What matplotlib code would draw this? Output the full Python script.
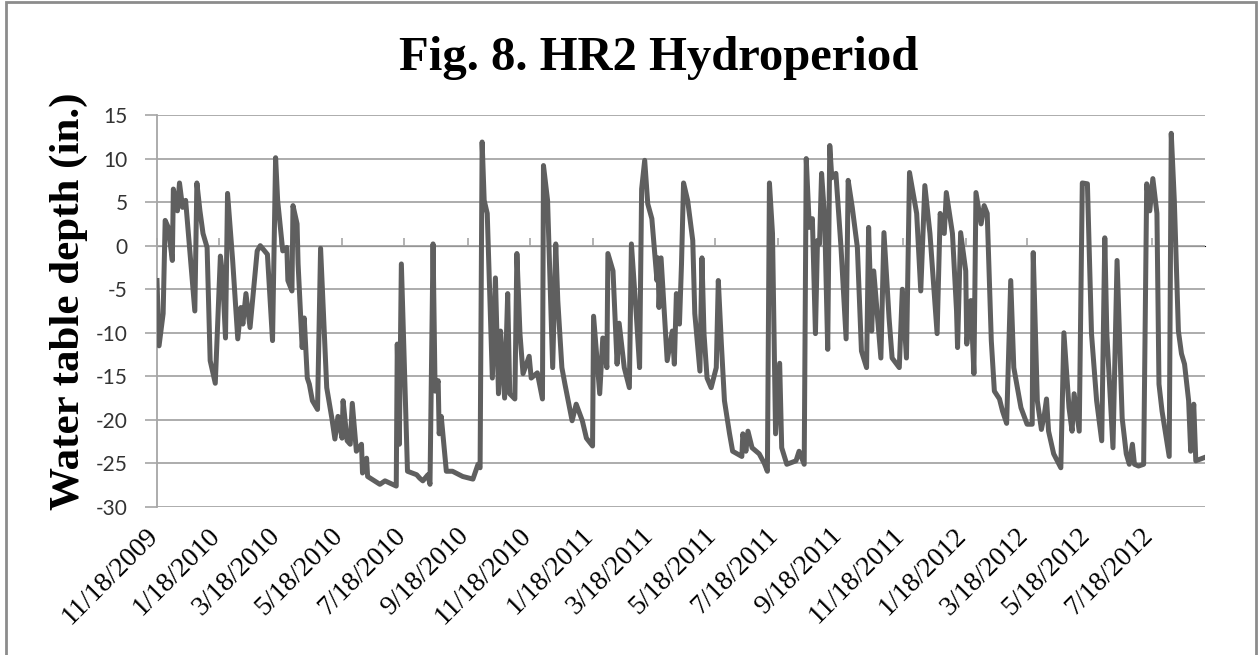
import matplotlib
matplotlib.use("Agg")
import matplotlib.pyplot as plt
import matplotlib.transforms as mtransforms
import numpy as np
import pandas as pd
from matplotlib.patches import Rectangle

# Data: days since 11/18/2009 and water table depth (in.)
start_date = "2009-11-18"
days = [0, 2, 6, 8, 11, 15, 16, 20, 22, 25, 28, 37, 39, 42, 45, 49, 52, 57, 62, 64,
        67, 69, 74, 79, 82, 84, 87, 91, 98, 101, 108, 113, 116, 118, 123, 127, 128, 132,
        133, 137, 138, 142, 144, 147, 149, 152, 157, 160, 166, 171, 174, 177, 181, 182,
        186, 189, 191, 195, 200, 201, 205, 206, 218, 223, 234, 235, 237, 239, 245, 254,
        257, 260, 265, 267, 270, 272, 275, 276, 278, 283, 289, 299, 309, 314, 316, 318,
        320, 323, 328, 331, 334, 336, 340, 343, 345, 350, 352, 355, 358, 364, 366, 372,
        377, 378, 382, 387, 390, 392, 396, 399, 406, 410, 416, 420, 426, 427, 433, 436,
        440, 441, 446, 450, 452, 457, 462, 464, 469, 472, 474, 477, 480, 484, 489, 490,
        491, 493, 499, 504, 506, 508, 511, 513, 515, 519, 524, 526, 531, 533, 535, 538,
        542, 547, 549, 552, 555, 560, 563, 572, 573, 576, 578, 582, 589, 594, 597, 599,
        602, 605, 609, 611, 616, 625, 628, 633, 635, 638, 641, 644, 646, 648, 650, 653,
        656, 658, 660, 664, 669, 674, 676, 680, 685, 689, 694, 696, 699, 701, 708, 711,
        716, 719, 726, 729, 733, 736, 743, 747, 751, 756, 763, 766, 770, 772, 778, 782,
        783, 786, 791, 792, 796, 799, 801, 806, 809, 812, 816, 819, 824, 827, 831, 835,
        838, 845, 851, 856, 857, 861, 865, 868, 870, 872, 877, 884, 887, 892, 895, 897,
        902, 905, 910, 914, 919, 924, 927, 929, 935, 939, 944, 948, 951, 954, 956, 960,
        965, 968, 971, 974, 978, 980, 983, 990, 992, 995, 998, 999, 1002, 1005, 1009,
        1011, 1014, 1016, 1025]
depth = [-4.0, -11.5, -7.8, 2.9, 2.1, -1.7, 6.5, 4.0, 7.2, 4.4, 5.2, -7.5, 7.2, 4.0, 1.4,
         -0.2, -13.2, -15.8, -1.2, -3.2, -10.6, 6.0, -1.7, -10.7, -7.1, -9.0, -5.5, -9.4,
         -0.6, 0.0, -1.0, -10.9, 10.1, 5.2, -0.6, -0.2, -4.0, -5.2, 4.6, 2.5, -2.1, -11.7,
         -8.3, -15.2, -15.9, -17.8, -18.8, -0.3, -16.3, -19.8, -22.2, -19.6, -22.1, -17.8,
         -22.4, -22.8, -18.1, -23.6, -22.8, -26.1, -24.4, -26.5, -27.4, -27.0, -27.6, -11.3,
         -22.8, -2.1, -25.9, -26.3, -26.7, -27.0, -26.3, -27.4, 0.2, -16.7, -15.5, -21.6,
         -19.6, -25.9, -25.9, -26.5, -26.8, -25.1, -25.5, 11.9, 5.2, 3.7, -15.2, -3.7,
         -17.0, -9.8, -17.5, -5.5, -17.0, -17.6, -0.9, -10.1, -14.7, -12.7, -15.2, -14.6,
         -17.6, 9.2, 5.2, -14.0, 0.2, -6.3, -14.0, -15.9, -20.1, -18.2, -20.1, -22.1, -23.0,
         -8.1, -17.0, -10.6, -14.0, -0.9, -2.9, -13.6, -8.9, -14.0, -16.3, 0.2, -8.3, -14.0,
         6.5, 9.8, 4.8, 3.1, -4.0, -1.4, -7.1, -1.4, -13.2, -9.8, -13.6, -5.5, -9.0, -2.1,
         7.2, 5.2, 0.6, -7.8, -14.4, -1.4, -10.1, -15.2, -16.3, -14.0, -4.0, -11.3, -17.8,
         -21.6, -23.6, -24.2, -21.6, -23.6, -21.3, -23.2, -23.9, -25.0, -25.9, 7.2, 1.4,
         -21.6, -13.5, -23.2, -25.1, -24.7, -23.6, -25.1, 10.0, 2.1, 3.1, -10.1, 0.6, 0.2,
         8.3, 3.2, -11.9, 11.5, 7.8, 8.3, -0.2, -10.7, 7.5, 4.4, -0.2, -12.1, -14.0, 2.1,
         -9.8, -2.9, -12.9, 1.5, -8.3, -12.9, -14.0, -5.0, -12.9, 8.4, 3.7, -5.2, 6.9, 1.4,
         -10.1, 3.7, 1.4, 6.1, 1.4, -7.5, -11.7, 1.5, -2.9, -11.3, -6.3, -14.7, 6.1, 2.5,
         4.6, 3.7, -10.9, -16.7, -17.6, -19.0, -20.4, -4.0, -14.0, -18.6, -20.5, -20.5,
         -0.8, -17.8, -21.1, -19.3, -17.6, -21.3, -23.9, -25.5, -10.0, -18.6, -21.3, -17.0,
         -21.3, 7.2, 7.1, -10.1, -17.8, -22.4, 0.9, -10.1, -23.2, -1.7, -19.8, -23.9, -25.1,
         -22.8, -25.1, -25.3, -25.1, 7.1, 4.0, 7.7, 3.7, -15.9, -19.0, -24.2, 12.9, 5.2,
         -6.0, -9.8, -12.4, -13.6, -17.8, -23.6, -18.2, -24.7, -24.3]

tick_labels = ["11/18/2009", "1/18/2010", "3/18/2010", "5/18/2010", "7/18/2010",
               "9/18/2010", "11/18/2010", "1/18/2011", "3/18/2011", "5/18/2011",
               "7/18/2011", "9/18/2011", "11/18/2011", "1/18/2012", "3/18/2012",
               "5/18/2012", "7/18/2012"]
y_ticks = [15, 10, 5, 0, -5, -10, -15, -20, -25, -30]


def run():
    dates = pd.Timestamp(start_date) + pd.to_timedelta(days, unit="D")
    tick_dates = pd.to_datetime(tick_labels, format="%m/%d/%Y")

    fig = plt.figure(figsize=(12.59, 6.55), dpi=100)
    ax = fig.add_axes([0.1247, 0.226, 0.8324, 0.5984])

    grid_color = "#a6a6a6"
    ax.plot(dates, depth, color="#5f5f5f", linewidth=3.6, solid_joinstyle="round",
            zorder=3)

    ax.set_xlim(dates[0], dates[-1])
    ax.set_ylim(-30, 15)
    ax.set_yticks(y_ticks)
    ax.set_yticklabels([str(v) for v in y_ticks], family="Lato", fontsize=15,
                       color="#333333")
    ax.yaxis.grid(True, color=grid_color, linewidth=1.3, zorder=1)
    ax.tick_params(axis="y", length=9, width=1.2, color=grid_color, pad=12)

    ax.set_xticks(tick_dates)
    ax.set_xticklabels(tick_labels, family="Liberation Serif", fontsize=20,
                       rotation=45, ha="right", va="center", rotation_mode="anchor")
    ax.tick_params(axis="x", length=0, pad=0)
    offset = mtransforms.ScaledTranslation(-0.03, -0.25, fig.dpi_scale_trans)
    for lbl in ax.get_xticklabels():
        lbl.set_transform(lbl.get_transform() + offset)

    for side in ["top", "right", "bottom"]:
        ax.spines[side].set_visible(False)
    ax.spines["left"].set_color(grid_color)
    ax.spines["left"].set_linewidth(1.3)

    # horizontal axis line sits on y = 0 with its tick marks
    zero_axis = ax.secondary_xaxis(30 / 45)
    zero_axis.set_xticks(tick_dates)
    zero_axis.set_xticklabels([""] * len(tick_dates))
    zero_axis.tick_params(length=6, width=1.2, color=grid_color, direction="out")
    zero_axis.spines["bottom"].set_color(grid_color)
    zero_axis.spines["bottom"].set_linewidth(1.3)

    ax.set_ylabel("Water table depth (in.)", family="Liberation Serif",
                  fontweight="bold", fontsize=31)
    ax.yaxis.set_label_coords(-0.066, 0.525)

    fig.text(0.523, 0.912, "Fig. 8. HR2 Hydroperiod", family="Liberation Serif",
             fontweight="bold", fontsize=35, ha="center", va="center")

    # chart area border
    fig.patches.append(Rectangle((0.005, -0.05), 0.993, 1.047,
                                 transform=fig.transFigure, fill=False,
                                 edgecolor="#8c8c8c", linewidth=2.0))

    fig.savefig("out.png", dpi=100)


if __name__ == '__main__':
    run()
